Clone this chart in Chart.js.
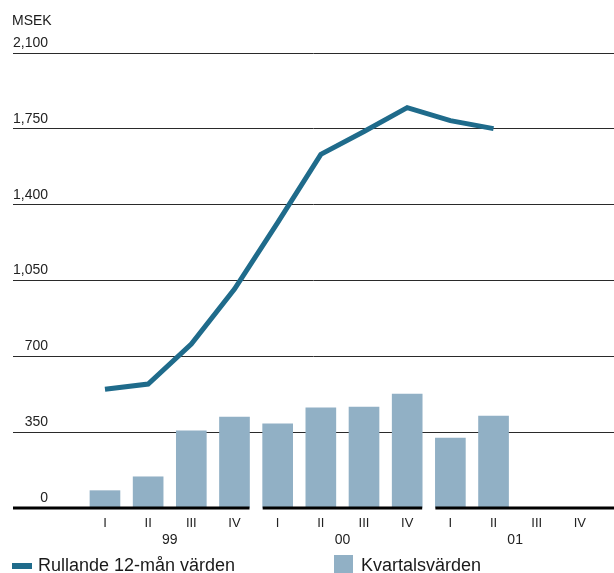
<!DOCTYPE html>
<html>
<head>
<meta charset="utf-8">
<script src="https://cdn.jsdelivr.net/npm/chart.js@4.4.0/dist/chart.umd.min.js"></script>
<style>
  body { margin: 0; background: #fff; font-family: "Liberation Sans", Arial, sans-serif; color: #1a1a1a; }
  #wrap { position: relative; width: 614px; height: 573px; overflow: hidden; }
  canvas { position: absolute; left: 0; top: 0; }
  #unit { position: absolute; left: 12px; top: 13px; font-size: 14px; line-height: 14px; }
  .leg { position: absolute; top: 556px; font-size: 18px; line-height: 18px; white-space: nowrap; }
  .sw { position: absolute; }
</style>
</head>
<body>
<div id="wrap">
  <canvas id="graph" width="614" height="573"></canvas>
  <div id="unit">MSEK</div>
  <div class="sw" style="left:12px;top:563px;width:20px;height:6px;background:#1f6b8b"></div>
  <div class="leg" style="left:38px">Rullande 12-mån värden</div>
  <div class="sw" style="left:334px;top:555px;width:19px;height:18px;background:#91b0c5"></div>
  <div class="leg" style="left:361px">Kvartalsvärden</div>
</div>
<script>
const quarters = ['I', 'II', 'III', 'IV', 'I', 'II', 'III', 'IV', 'I', 'II', 'III', 'IV'];
const years = ['99', '00', '01'];
const quarterly = [80, 144, 356, 420, 388, 462, 466, 526, 323, 424];
const rolling12 = [548, 572, 757, 1010, 1317, 1632, 1738, 1848, 1788, 1751];
const yTicks = [0, 350, 700, 1050, 1400, 1750, 2100];

const lineColor = '#1f6b8b';
const barColor = '#91b0c5';
const xMin = -2.13, xMax = 11.79;

// thick x axis, broken between the years
const axisSegments = {
  id: 'axisSegments',
  afterDatasetsDraw(chart) {
    const { ctx, chartArea, scales } = chart;
    const x = scales.x;
    const y0 = scales.y.getPixelForValue(0);
    const half = 15;
    const edges = [chartArea.left];
    for (let g = 1; g < years.length; g++) {
      edges.push(x.getPixelForValue(g * 4 - 1) + half, x.getPixelForValue(g * 4) - half);
    }
    edges.push(chartArea.right);
    ctx.save();
    ctx.strokeStyle = '#000';
    ctx.lineWidth = 3;
    for (let i = 0; i < edges.length; i += 2) {
      ctx.beginPath();
      ctx.moveTo(edges[i], y0);
      ctx.lineTo(edges[i + 1], y0);
      ctx.stroke();
    }
    ctx.restore();
  }
};

new Chart(document.getElementById('graph'), {
  type: 'bar',
  data: {
    datasets: [
      {
        type: 'line',
        label: 'Rullande 12-mån värden',
        data: rolling12.map((v, i) => ({ x: i, y: v })),
        borderColor: lineColor,
        borderWidth: 5,
        pointRadius: 0,
        tension: 0,
        order: 0,
      },
      {
        type: 'bar',
        label: 'Kvartalsvärden',
        data: quarterly.map((v, i) => ({ x: i, y: v })),
        backgroundColor: barColor,
        barThickness: 30,
        order: 1,
      },
    ],
  },
  options: {
    responsive: false,
    animation: false,
    devicePixelRatio: 1,
    layout: { padding: { left: 13, right: 0, top: 53, bottom: 23 } },
    plugins: { legend: { display: false }, tooltip: { enabled: false } },
    scales: {
      x: {
        type: 'linear',
        min: xMin,
        max: xMax,
        offset: false,
        grid: { display: false, drawTicks: false },
        border: { display: false },
        afterBuildTicks: (s) => { s.ticks = quarters.map((q, i) => ({ value: i })); },
        afterFit: (s) => { s.height = 22; },
        ticks: {
          autoSkip: false,
          maxRotation: 0,
          padding: 8,
          color: '#222',
          font: { family: 'Liberation Sans', size: 13 },
          callback: (v, i) => quarters[i],
        },
      },
      x2: {
        type: 'linear',
        position: 'bottom',
        weight: 1,
        min: xMin,
        max: xMax,
        offset: false,
        grid: { display: false, drawTicks: false },
        border: { display: false },
        afterBuildTicks: (s) => { s.ticks = years.map((y, g) => ({ value: g * 4 + 1.5 })); },
        afterFit: (s) => { s.height = 20; },
        ticks: {
          autoSkip: false,
          maxRotation: 0,
          padding: 2,
          color: '#222',
          font: { family: 'Liberation Sans', size: 14 },
          callback: (v, i) => years[i],
        },
      },
      y: {
        min: 0,
        max: 2100,
        afterBuildTicks: (s) => { s.ticks = yTicks.map((v) => ({ value: v })); },
        afterFit: (s) => { s.width = 0; },
        grid: {
          drawTicks: false,
          lineWidth: 1,
          color: (c) => (c.tick && c.tick.value === 0 ? 'rgba(0,0,0,0)' : '#2a2a2a'),
        },
        border: { display: false },
        ticks: {
          mirror: true,
          crossAlign: 'far',
          padding: 0,
          labelOffset: -10,
          color: '#222',
          font: { family: 'Liberation Sans', size: 14 },
          callback: (v) => v.toLocaleString('en-US'),
        },
      },
    },
  },
  plugins: [axisSegments],
});
</script>
</body>
</html>
